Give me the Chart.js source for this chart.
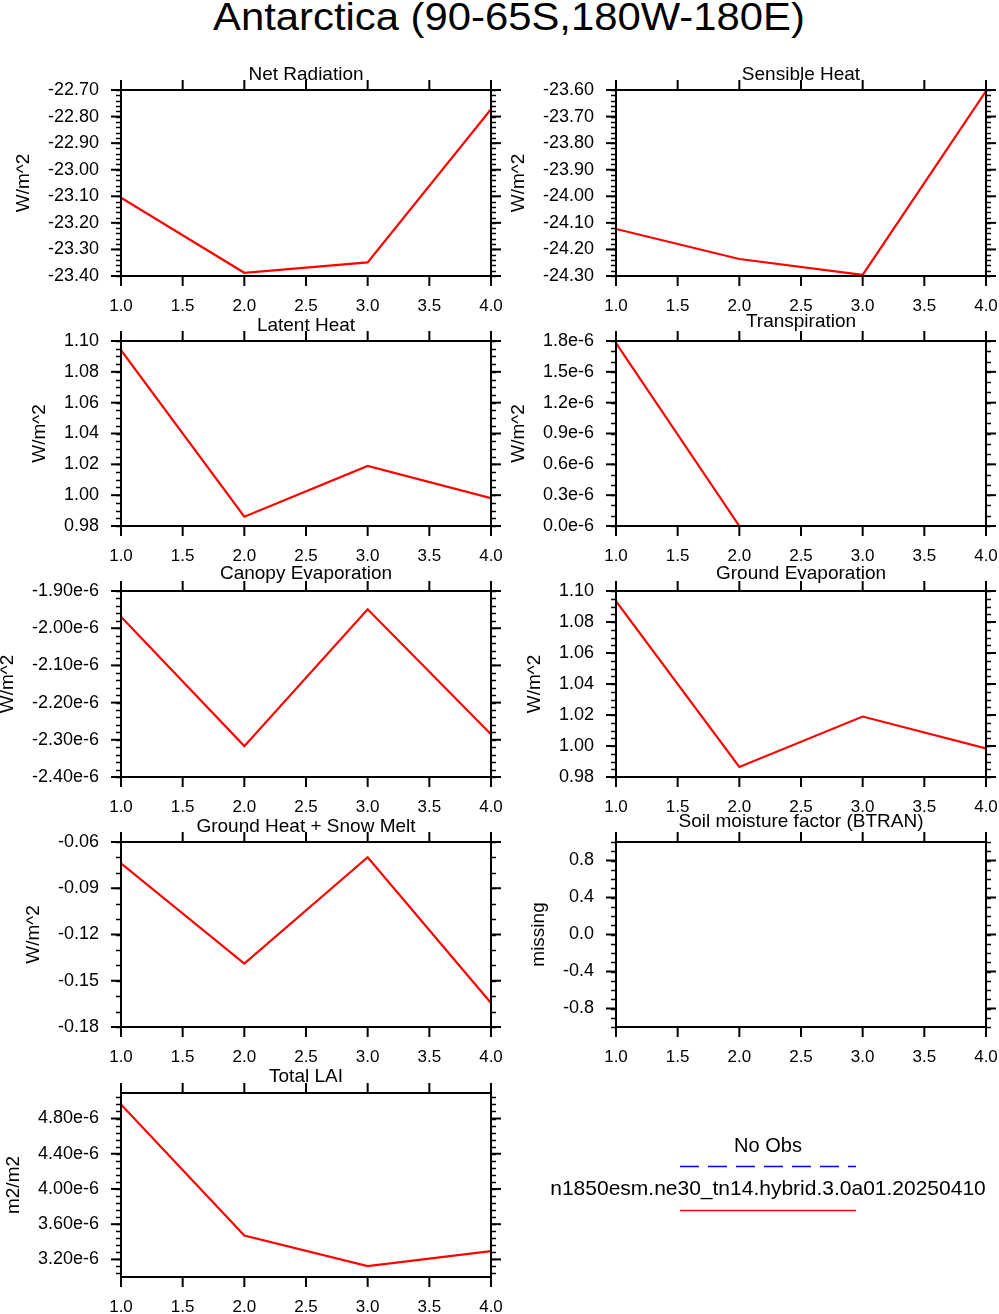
<!DOCTYPE html>
<html>
<head>
<meta charset="utf-8">
<script src="https://cdn.jsdelivr.net/npm/chart.js@4.4.1/dist/chart.umd.min.js"></script>
<style>
  body { margin: 0; background: #fff; }
  #page { position: relative; width: 999px; height: 1314px; overflow: hidden; font-family: "Liberation Sans", Arial, sans-serif; }
  #page canvas { position: absolute; left: 0; top: 0; }
  #title { position: absolute; left: 0; top: -2px; width: 1018px; text-align: center; font-size: 38px; line-height: 38px; color: #000; }
  #title span { display: inline-block; transform: scaleX(1.1); }
</style>
</head>
<body>
<div id="page">
  <div id="title"><span>Antarctica (90-65S,180W-180E)</span></div>
</div>
<script>
// --- data ---
const years = [1, 2, 3, 4];
const xTicks = [1, 1.5, 2, 2.5, 3, 3.5, 4];
const xLabels = ["1.0", "1.5", "2.0", "2.5", "3.0", "3.5", "4.0"];

const obsLabel = "No Obs";
const caseLabel = "n1850esm.ne30_tn14.hybrid.3.0a01.20250410";

const netRadiation = [-23.105, -23.388, -23.349, -22.772];
const netRadTicks = [-23.4, -23.3, -23.2, -23.1, -23.0, -22.9, -22.8, -22.7];
const netRadLabels = ["-23.40", "-23.30", "-23.20", "-23.10", "-23.00", "-22.90", "-22.80", "-22.70"];

const sensibleHeat = [-24.123, -24.236, -24.296, -23.604];
const sensTicks = [-24.3, -24.2, -24.1, -24.0, -23.9, -23.8, -23.7, -23.6];
const sensLabels = ["-24.30", "-24.20", "-24.10", "-24.00", "-23.90", "-23.80", "-23.70", "-23.60"];

const latentHeat = [1.094, 0.986, 1.019, 0.998];
const latentTicks = [0.98, 1.00, 1.02, 1.04, 1.06, 1.08, 1.10];
const latentLabels = ["0.98", "1.00", "1.02", "1.04", "1.06", "1.08", "1.10"];

const transpiration = [1.78e-6, 0, 0, 0];
const transTicks = [0, 0.3e-6, 0.6e-6, 0.9e-6, 1.2e-6, 1.5e-6, 1.8e-6];
const transLabels = ["0.0e-6", "0.3e-6", "0.6e-6", "0.9e-6", "1.2e-6", "1.5e-6", "1.8e-6"];

const canopyEvap = [-1.969e-6, -2.317e-6, -1.949e-6, -2.285e-6];
const canopyTicks = [-2.4e-6, -2.3e-6, -2.2e-6, -2.1e-6, -2.0e-6, -1.9e-6];
const canopyLabels = ["-2.40e-6", "-2.30e-6", "-2.20e-6", "-2.10e-6", "-2.00e-6", "-1.90e-6"];

const groundEvap = [1.0935, 0.9865, 1.019, 0.9985];
const groundEvapTicks = [0.98, 1.00, 1.02, 1.04, 1.06, 1.08, 1.10];
const groundEvapLabels = ["0.98", "1.00", "1.02", "1.04", "1.06", "1.08", "1.10"];

const groundHeat = [-0.0739, -0.1388, -0.0699, -0.1644];
const groundHeatTicks = [-0.18, -0.15, -0.12, -0.09, -0.06];
const groundHeatLabels = ["-0.18", "-0.15", "-0.12", "-0.09", "-0.06"];

const btran = [null, null, null, null];   // missing
const btranTicks = [-0.8, -0.4, 0.0, 0.4, 0.8];
const btranLabels = ["-0.8", "-0.4", "0.0", "0.4", "0.8"];

const totalLai = [4.96e-6, 3.472e-6, 3.124e-6, 3.294e-6];
const laiTicks = [3.2e-6, 3.6e-6, 4.0e-6, 4.4e-6, 4.8e-6];
const laiLabels = ["3.20e-6", "3.60e-6", "4.00e-6", "4.40e-6", "4.80e-6"];

// --- panel layout ---
const colX = [[121, 491], [616, 986]];
const rowY = [[90, 276], [341, 526], [591, 777], [842, 1027], [1093, 1277]];

const panels = [
  { title: "Net Radiation", units: "W/m^2", values: netRadiation, min: -23.4, max: -22.7, ticks: netRadTicks, labels: netRadLabels, minor: 0.02, col: 0, row: 0, lift: 10 },
  { title: "Sensible Heat", units: "W/m^2", values: sensibleHeat, min: -24.3, max: -23.6, ticks: sensTicks, labels: sensLabels, minor: 0.02, col: 1, row: 0, lift: 10 },
  { title: "Latent Heat", units: "W/m^2", values: latentHeat, min: 0.98, max: 1.10, ticks: latentTicks, labels: latentLabels, minor: 0.005, col: 0, row: 1, lift: 10 },
  { title: "Transpiration", units: "W/m^2", values: transpiration, min: 0, max: 1.8e-6, ticks: transTicks, labels: transLabels, minor: 0.1e-6, col: 1, row: 1, lift: 14 },
  { title: "Canopy Evaporation", units: "W/m^2", values: canopyEvap, min: -2.4e-6, max: -1.9e-6, ticks: canopyTicks, labels: canopyLabels, minor: 0.02e-6, col: 0, row: 2, lift: 12 },
  { title: "Ground Evaporation", units: "W/m^2", values: groundEvap, min: 0.98, max: 1.10, ticks: groundEvapTicks, labels: groundEvapLabels, minor: 0.005, col: 1, row: 2, lift: 12 },
  { title: "Ground Heat + Snow Melt", units: "W/m^2", values: groundHeat, min: -0.18, max: -0.06, ticks: groundHeatTicks, labels: groundHeatLabels, minor: 0.01, col: 0, row: 3, lift: 10 },
  { title: "Soil moisture factor (BTRAN)", units: "missing", values: btran, min: -1, max: 1, ticks: btranTicks, labels: btranLabels, minor: 0.1, col: 1, row: 3, lift: 15, legend: true },
  { title: "Total LAI", units: "m2/m2", values: totalLai, min: 3.0e-6, max: 5.09e-6, ticks: laiTicks, labels: laiLabels, minor: 0.08e-6, col: 0, row: 4, lift: 11 },
];

const FONT = '"Liberation Sans", Arial, sans-serif';
const xTickFont = { family: FONT, size: 17 };
const yTickFont = { family: FONT, size: 18 };

function minorValues(p) {
  const out = [];
  const base = p.ticks[0];
  const n0 = Math.ceil((p.min - base) / p.minor - 1e-6);
  const n1 = Math.floor((p.max - base) / p.minor + 1e-6);
  for (let k = n0; k <= n1; k++) out.push(base + k * p.minor);
  return out;
}

function seg(ctx, x1, y1, x2, y2) {
  ctx.beginPath(); ctx.moveTo(x1, y1); ctx.lineTo(x2, y2); ctx.stroke();
}

const framePlugin = {
  id: "ncarFrame",
  afterDraw(chart, args, opts) {
    const p = opts.panel;
    const { ctx, chartArea: a } = chart;
    const x = chart.scales.x, y = chart.scales.y;
    ctx.save();
    ctx.strokeStyle = "#000";
    ctx.lineCap = "butt";

    // minor ticks on left/right
    ctx.lineWidth = 1.5;
    minorValues(p).forEach(v => {
      const py = Math.round(y.getPixelForValue(v)) + 0.5;
      seg(ctx, a.left - 5, py, a.left, py);
      seg(ctx, a.right, py, a.right + 5, py);
    });
    // major ticks
    ctx.lineWidth = 2;
    p.ticks.forEach(v => {
      const py = y.getPixelForValue(v);
      seg(ctx, a.left - 10, py, a.left, py);
      seg(ctx, a.right, py, a.right + 10, py);
    });
    xTicks.forEach(v => {
      const px = x.getPixelForValue(v);
      seg(ctx, px, a.bottom, px, a.bottom + 10);
      seg(ctx, px, a.top - 10, px, a.top);
    });
    ctx.strokeRect(a.left, a.top, a.right - a.left, a.bottom - a.top);

    // panel title
    ctx.fillStyle = "#000";
    ctx.font = "19px " + FONT;
    ctx.textAlign = "center";
    ctx.textBaseline = "alphabetic";
    ctx.fillText(p.title, (a.left + a.right) / 2, a.top - p.lift);

    // y axis title
    ctx.font = "18px " + FONT;
    const maxW = Math.max(...p.labels.map(s => ctx.measureText(s).width));
    const tx = a.left - 22 - maxW - 24;
    ctx.translate(tx, (a.top + a.bottom) / 2);
    ctx.rotate(-Math.PI / 2);
    ctx.font = "19px " + FONT;
    ctx.textBaseline = "middle";
    ctx.fillText(p.units, 0, 0);
    ctx.restore();

    // legend (drawn from the dataset labels/styles)
    if (p.legend) {
      const ds = chart.data.datasets;
      ctx.save();
      ctx.fillStyle = "#000";
      ctx.textAlign = "center";
      ctx.font = "20px " + FONT;
      ctx.fillText(ds[0].label, 768, 1152);
      ctx.font = "21px " + FONT;
      ctx.fillText(ds[1].label, 768, 1195);
      ctx.lineWidth = 1.5;
      ctx.strokeStyle = ds[0].borderColor;
      ctx.setLineDash(ds[0].borderDash);
      seg(ctx, 680, 1166.5, 856, 1166.5);
      ctx.setLineDash([]);
      ctx.strokeStyle = ds[1].borderColor;
      seg(ctx, 680, 1210.5, 856, 1210.5);
      ctx.restore();
    }
  }
};

const page = document.getElementById("page");

panels.forEach(p => {
  const canvas = document.createElement("canvas");
  canvas.width = 999; canvas.height = 1314;
  page.appendChild(canvas);
  const [L, R] = colX[p.col];
  const [T, B] = rowY[p.row];
  const xH = Math.min(50, 1314 - B);

  new Chart(canvas, {
    type: "line",
    data: {
      datasets: [
        { label: obsLabel, data: [], borderColor: "#0000ff", borderDash: [19, 9], borderWidth: 1.5, pointRadius: 0 },
        { label: caseLabel, data: years.map((yr, i) => ({ x: yr, y: p.values[i] })), borderColor: "#ff0000", borderWidth: 2.2, pointRadius: 0, tension: 0 },
      ],
    },
    options: {
      responsive: false,
      animation: false,
      events: [],
      layout: { padding: { left: L - 100, right: 999 - R, top: T, bottom: 1314 - B - xH } },
      plugins: { legend: { display: false }, tooltip: { enabled: false }, ncarFrame: { panel: p } },
      scales: {
        x: {
          type: "linear", min: 1, max: 4,
          afterBuildTicks: s => { s.ticks = xTicks.map(v => ({ value: v })); },
          afterFit: s => { s.height = xH; s.paddingLeft = 0; s.paddingRight = 0; },
          grid: { display: false, drawTicks: false },
          border: { display: false },
          ticks: { padding: 20, autoSkip: false, maxRotation: 0, color: "#000", font: xTickFont, callback: (v, i) => xLabels[i] },
        },
        y: {
          type: "linear", min: p.min, max: p.max,
          afterBuildTicks: s => { s.ticks = p.ticks.map(v => ({ value: v })); },
          afterFit: s => { s.width = 100; s.paddingTop = 0; s.paddingBottom = 0; },
          grid: { display: false, drawTicks: false },
          border: { display: false },
          ticks: { padding: 22, autoSkip: false, color: "#000", font: yTickFont, callback: (v, i) => p.labels[i] },
        },
      },
    },
    plugins: [framePlugin],
  });
});
</script>
</body>
</html>
